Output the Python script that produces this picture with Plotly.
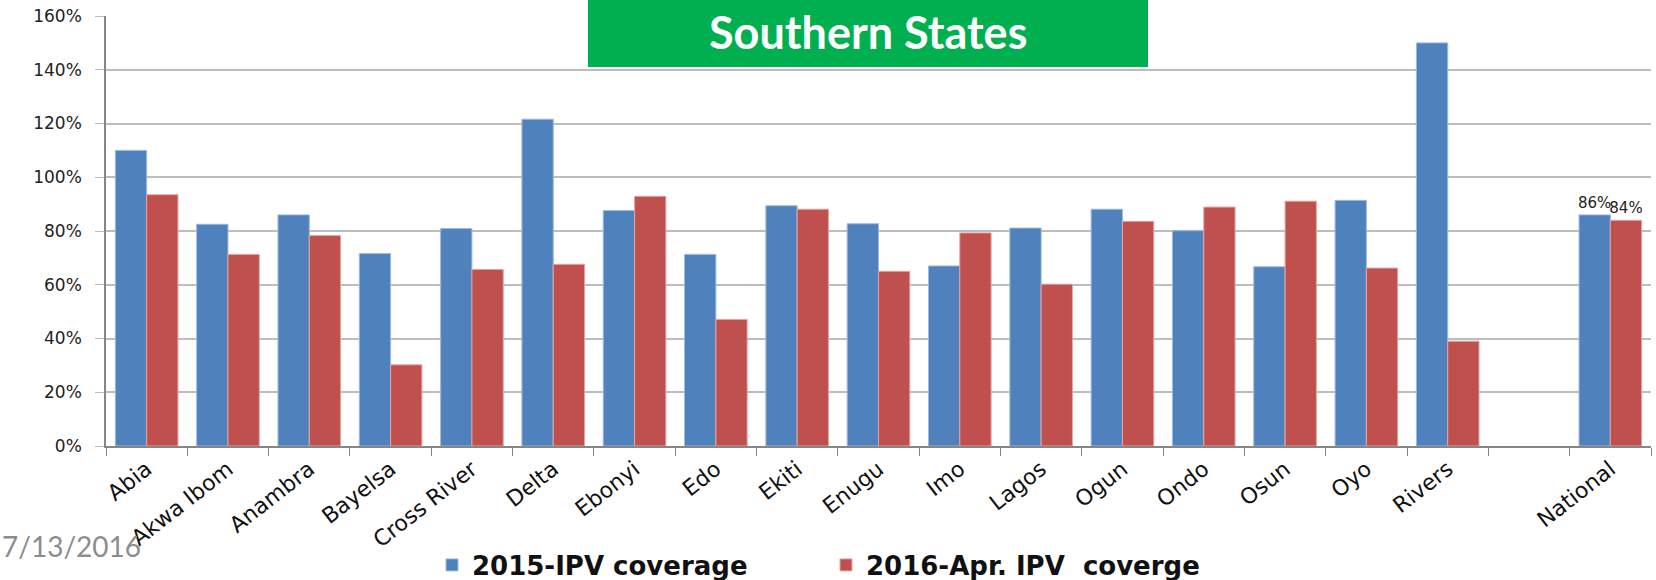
import plotly.graph_objects as go

# Southern states IPV coverage, 2015 vs 2016 (April)
states = ["Abia", "Akwa Ibom", "Anambra", "Bayelsa", "Cross River", "Delta",
          "Ebonyi", "Edo", "Ekiti", "Enugu", "Imo", "Lagos", "Ogun", "Ondo",
          "Osun", "Oyo", "Rivers", " ", "National"]

cov_2015 = [1.10, 0.825, 0.86, 0.716, 0.809, 1.216, 0.876, 0.713, 0.894, 0.827,
            0.670, 0.811, 0.881, 0.801, 0.667, 0.914, 1.50, None, 0.86]
cov_2016 = [0.935, 0.713, 0.783, 0.302, 0.657, 0.676, 0.929, 0.471, 0.881, 0.650,
            0.793, 0.602, 0.836, 0.889, 0.911, 0.662, 0.390, None, 0.84]

# only the national pair carries value labels
label_2015 = [""] * (len(states) - 1) + ["86%"]
label_2016 = [""] * (len(states) - 1) + ["84%"]

y_ticks = [0, 0.2, 0.4, 0.6, 0.8, 1.0, 1.2, 1.4, 1.6]

name_2015 = "2015-IPV coverage"
name_2016 = "2016-Apr. IPV\u00a0 coverge"

BLUE = "#4F81BD"
RED = "#C0504D"

W, H = 1656, 580
L, R, T, B = 106, 5, 16, 134
plot_w = W - L - R
plot_h = H - T - B


def px_x(px):
    return (px - L) / plot_w


def px_y(py):
    return (H - B - py) / plot_h


fig = go.Figure()
fig.add_trace(go.Bar(
    x=states, y=cov_2015, name=name_2015,
    marker=dict(color=BLUE, line=dict(color="#9DB9DF", width=1)),
    text=label_2015, textposition="outside", constraintext="none",
    textfont=dict(family="DejaVu Sans", size=15, color="#222222"),
    cliponaxis=False,
))
fig.add_trace(go.Bar(
    x=states, y=cov_2016, name=name_2016,
    marker=dict(color=RED, line=dict(color="#E3A5A4", width=1)),
    text=label_2016, textposition="outside", constraintext="none",
    textfont=dict(family="DejaVu Sans", size=15, color="#222222"),
    cliponaxis=False,
))

# title banner
fig.add_shape(type="rect", xref="paper", yref="paper",
              x0=px_x(588), x1=px_x(1148), y0=px_y(67), y1=px_y(0),
              fillcolor="#00B050", line=dict(width=0), layer="above")
fig.add_annotation(xref="paper", yref="paper", x=px_x(868), y=px_y(32),
                   text="<b>Southern States</b>", showarrow=False,
                   xanchor="center", yanchor="middle",
                   font=dict(family="Lato", size=45, color="white"))

# slide date
fig.add_annotation(xref="paper", yref="paper", x=px_x(0), y=px_y(546),
                   text="7/13/2016", showarrow=False,
                   xanchor="left", yanchor="middle",
                   font=dict(family="Lato", size=28, color="#8C8C8C"))

fig.update_layout(
    width=W, height=H,
    margin=dict(l=L, r=R, t=T, b=B, autoexpand=False),
    paper_bgcolor="white", plot_bgcolor="white",
    barmode="group", bargap=0.23, bargroupgap=0,
    showlegend=True,
    legend=dict(orientation="h", x=px_x(432), xanchor="left",
                y=px_y(565), yanchor="middle",
                entrywidth=349, entrywidthmode="pixels",
                font=dict(family="DejaVu Sans", size=26, color="#111111",
                          weight="bold"),
                bgcolor="rgba(0,0,0,0)"),
    font=dict(family="DejaVu Sans", color="#222222"),
)

fig.update_xaxes(
    type="category", categoryorder="array", categoryarray=states,
    tickangle=-38, tickfont=dict(family="DejaVu Sans", size=22, color="#111111"),
    showline=True, linecolor="#868686", linewidth=1.5,
    ticks="outside", tickson="boundaries", ticklen=8, tickcolor="#868686",
    showgrid=False, automargin=False,
)
fig.update_yaxes(
    range=[0, 1.6], tickvals=y_ticks, tickformat=".0%",
    tickfont=dict(family="DejaVu Sans", size=17, color="#222222"),
    showline=True, linecolor="#868686", linewidth=1.5,
    ticks="outside", ticklen=9, tickcolor="#BDBDBD", ticklabelstandoff=10,
    showgrid=True, gridcolor="#BDBDBD", gridwidth=1.5,
    zeroline=False, automargin=False,
)

fig.write_html("out.html")
